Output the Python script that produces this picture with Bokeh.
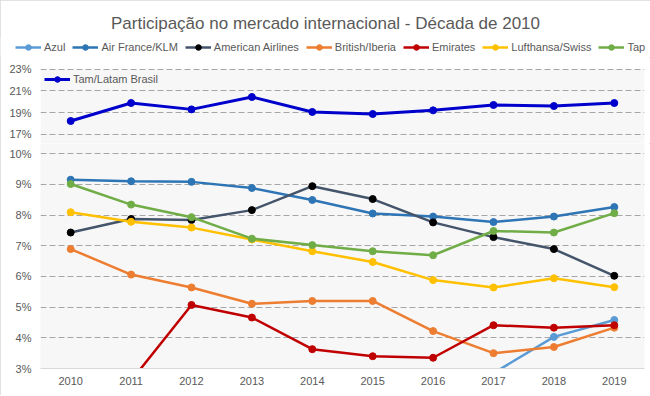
from bokeh.plotting import figure
from bokeh.layouts import column
from bokeh.models import (FactorRange, Range1d, FixedTicker, PrintfTickFormatter,
                          Legend, LegendItem, BoxAnnotation)
from bokeh.embed import file_html
from bokeh.resources import INLINE

nan = float("nan")

years = ["2010", "2011", "2012", "2013", "2014", "2015", "2016", "2017", "2018", "2019"]

azul = [nan, nan, nan, nan, nan, nan, nan, 2.85, 4.03, 4.58]
air_france = [9.15, 9.10, 9.08, 8.88, 8.49, 8.05, 7.95, 7.77, 7.95, 8.26]
american = [7.43, 7.87, 7.84, 8.16, 8.94, 8.52, 7.76, 7.28, 6.89, 6.02]
british = [6.89, 6.06, 5.64, 5.11, 5.20, 5.20, 4.22, 3.50, 3.70, 4.33]
emirates = [2.3, 2.6, 5.07, 4.66, 3.63, 3.40, 3.35, 4.41, 4.33, 4.41]
lufthansa = [8.09, 7.78, 7.59, 7.20, 6.82, 6.47, 5.88, 5.64, 5.94, 5.65]
tap = [9.01, 8.34, 7.93, 7.23, 7.02, 6.82, 6.69, 7.48, 7.43, 8.06]
tam = [18.21, 19.88, 19.29, 20.44, 19.05, 18.86, 19.20, 19.70, 19.60, 19.88]

lower_ticks = [3, 4, 5, 6, 7, 8, 9, 10]
upper_ticks = [17, 19, 21, 23]

series = [
    ("Azul", azul, "#5b9bd5", "#5b9bd5"),
    ("Air France/KLM", air_france, "#2e75b6", "#2e75b6"),
    ("American Airlines", american, "#44546a", "#000000"),
    ("British/Iberia", british, "#ed7d31", "#ed7d31"),
    ("Emirates", emirates, "#c00000", "#c00000"),
    ("Lufthansa/Swiss", lufthansa, "#ffc000", "#ffc000"),
    ("Tap", tap, "#70ad47", "#70ad47"),
    ("Tam/Latam Brasil", tam, "#0000cc", "#0000cc"),
]

FONT = "Liberation Sans"
TXT = "#595959"
GRID = "#a6a6a6"
BG = "#f7f7f7"

x_range = FactorRange(factors=years)

# header: title + main legend (series drawn but outside its visible range)
head = figure(x_range=FactorRange(factors=years), y_range=Range1d(-2, -1), width=650, height=57,
              output_backend="svg", toolbar_location=None,
              x_axis_location=None, y_axis_location=None,
              min_border_left=0, min_border_right=0, min_border_top=37, min_border_bottom=0,
              background_fill_color="white", border_fill_color="white", outline_line_color=None,
              title="Participação no mercado internacional - Década de 2010")
head.frame_align = False
head.title.align = "center"
head.title.text_font = FONT
head.title.text_font_size = "17px"
head.title.text_font_style = "normal"
head.title.text_color = TXT
head.grid.grid_line_color = None

# upper panel of the broken axis
top = figure(x_range=x_range, y_range=Range1d(16.12, 24.11), width=650, height=86,
             output_backend="svg", toolbar_location=None, x_axis_location=None,
             min_border_left=40, min_border_right=6, min_border_top=0, min_border_bottom=0,
             background_fill_color="white", border_fill_color="white", outline_line_color=None)
top.add_layout(BoxAnnotation(top=23, fill_color=BG, fill_alpha=1, line_color=None, level="image"))

# lower panel of the broken axis
bot = figure(x_range=x_range, y_range=Range1d(3, 10.33), width=650, height=252,
             output_backend="svg", toolbar_location=None,
             min_border_left=40, min_border_right=6, min_border_top=0, min_border_bottom=27,
             background_fill_color=BG, border_fill_color="white", outline_line_color=None)

for p, ticks, grid_ticks in ((top, upper_ticks, upper_ticks), (bot, lower_ticks, lower_ticks[1:])):
    p.yaxis.ticker = FixedTicker(ticks=ticks)
    p.yaxis.formatter = PrintfTickFormatter(format="%d%%")
    p.yaxis.axis_line_color = None
    p.yaxis.major_tick_line_color = None
    p.yaxis.minor_tick_line_color = None
    p.yaxis.major_tick_out = 0
    p.yaxis.major_label_standoff = 9
    p.yaxis.major_label_text_font = FONT
    p.yaxis.major_label_text_font_size = "11px"
    p.yaxis.major_label_text_color = TXT
    p.ygrid.ticker = FixedTicker(ticks=grid_ticks)
    p.ygrid.grid_line_color = GRID
    p.ygrid.grid_line_dash = "6 3"
    p.ygrid.grid_line_width = 1
    p.xgrid.grid_line_color = None

bot.xaxis.axis_line_color = "#d9d9d9"
bot.xaxis.major_tick_line_color = None
bot.xaxis.minor_tick_line_color = None
bot.xaxis.major_tick_out = 0
bot.xaxis.major_label_standoff = 8
bot.xaxis.major_label_text_font = FONT
bot.xaxis.major_label_text_font_size = "11px"
bot.xaxis.major_label_text_color = TXT

head_items = []
tam_item = None
for name, vals, lc, mc in series:
    lw = 3 if name.startswith("Tam") else 2.5
    for p in (head, top, bot):
        lr = p.line(years, vals, line_color=lc, line_width=lw)
        sr = p.scatter(years, vals, size=7, fill_color=mc, line_color=mc)
        if p is head and not name.startswith("Tam"):
            head_items.append(LegendItem(label=name, renderers=[lr, sr]))
        if p is top and name.startswith("Tam"):
            tam_item = LegendItem(label=name, renderers=[lr, sr])

def mk_legend(its, loc):
    return Legend(items=its, location=loc, orientation="horizontal",
                  label_text_font=FONT, label_text_font_size="11px", label_text_color=TXT,
                  glyph_width=26, glyph_height=14, label_height=14, label_standoff=3,
                  spacing=7, padding=2, margin=0, border_line_color=None,
                  background_fill_alpha=0)

head.add_layout(mk_legend(head_items, (15, 3)))
top.add_layout(mk_legend([tam_item], (4, 57)))

layout = column(head, top, bot, spacing=0,
                styles={"outline": "1px solid #d9d9d9", "outline-offset": "-1px"})

open("out.html", "w").write(file_html(layout, INLINE))
